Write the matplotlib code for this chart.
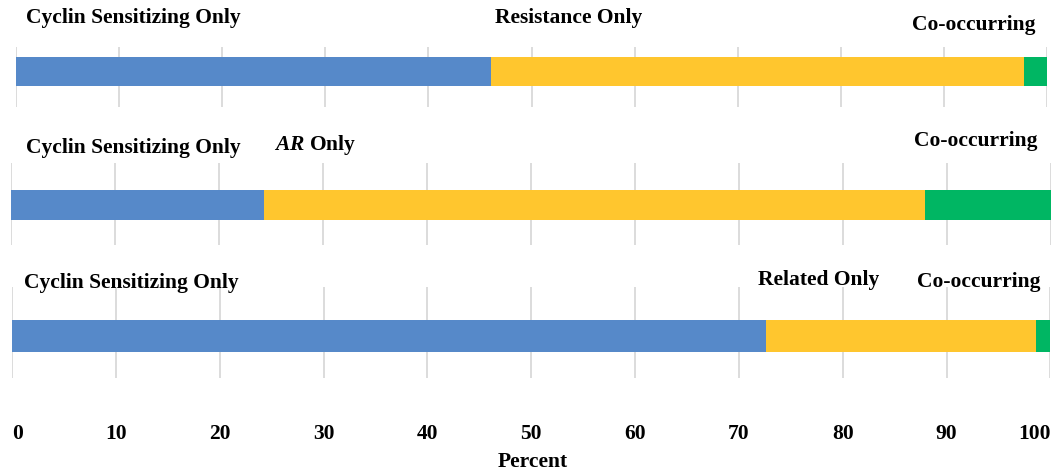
import matplotlib
matplotlib.use("Agg")
import matplotlib.pyplot as plt
import numpy as np

# ---- data ----
panels = ["Resistance", "AR", "Related"]
cyclin_only = [46.1, 24.3, 72.6]
other_only = [51.6, 63.6, 26.0]
co_occurring = [2.3, 12.1, 1.4]
middle_labels = ["Resistance Only", r"$\bfit{AR}$ Only", "Related Only"]
first_label = "Cyclin Sensitizing Only"
last_label = "Co-occurring"
xticks = [0, 10, 20, 30, 40, 50, 60, 70, 80, 90, 100]
xlabel = "Percent"

colors = ["#5689C9", "#FFC62E", "#00B663"]

W, H = 1052, 470
fig = plt.figure(figsize=(W / 100, H / 100), dpi=100)
plt.rcParams["font.family"] = ["Liberation Serif", "DejaVu Serif"]
plt.rcParams["mathtext.fontset"] = "custom"
plt.rcParams["mathtext.bfit"] = "Liberation Serif:bold:italic"

FS = 15.5

# panel layout in pixels: (x0, x1, ytop, ybottom, bar_center, bar_height)
layout = [
    (15.7, 1047.3, 46.7, 106.7, 71.5, 29),
    (11.0, 1051.0, 163.0, 245.0, 205.0, 30),
    (12.0, 1050.4, 287.0, 378.0, 336.0, 32),
]
# label positions (left x px, center y px)
label_pos = [
    [(26, 18), (495, 18), (912, 25)],
    [(26, 148), (274, 145), (914, 141)],
    [(24, 283), (758, 280), (917, 282)],
]

axes = []
for i, (x0, x1, yt, yb, bc, bh) in enumerate(layout):
    ax = fig.add_axes([x0 / W, 1 - yb / H, (x1 - x0) / W, (yb - yt) / H])
    axes.append(ax)
    ax.set_xlim(0, 100)
    ax.set_ylim(0, 1)
    yc = (yb - bc) / (yb - yt)
    hh = bh / (yb - yt)
    left = 0
    for val, c in zip([cyclin_only[i], other_only[i], co_occurring[i]], colors):
        ax.barh(yc, val, left=left, height=hh, color=c, linewidth=0, zorder=3)
        left += val
    ax.set_xticks(xticks)
    ax.grid(axis="x", color="#D9D9D9", linewidth=1.3, zorder=0)
    ax.set_yticks([])
    for s in ax.spines.values():
        s.set_visible(False)
    ax.tick_params(axis="x", length=0)
    if i < 2:
        ax.set_xticklabels([])
    else:
        labs = ax.set_xticklabels([str(t) for t in xticks], fontsize=FS, fontweight="bold")
        ax.tick_params(axis="x", pad=33)
        labs[0].set_ha("left")
        labs[-1].set_ha("right")

    texts = [first_label, middle_labels[i], last_label]
    for t, (px, py) in zip(texts, label_pos[i]):
        fig.text(px / W, 1 - py / H, t, ha="left", va="center",
                 fontsize=FS, fontweight="bold")

fig.text(533 / W, 1 - 462 / H, xlabel, ha="center", va="center",
         fontsize=FS, fontweight="bold")

fig.savefig("out.png", dpi=100)
